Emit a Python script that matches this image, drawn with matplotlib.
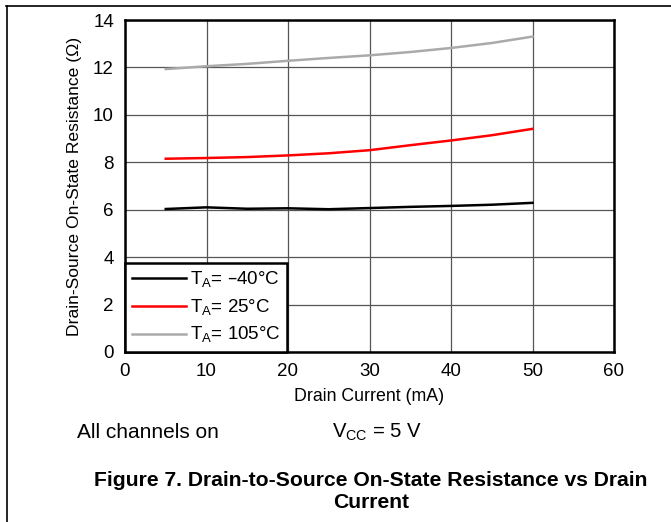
import matplotlib
matplotlib.use("Agg")
import matplotlib.pyplot as plt
from matplotlib.lines import Line2D

plt.rcParams['font.family'] = ['Liberation Sans', 'DejaVu Sans']

# drain current (mA)
current = [5, 10, 15, 20, 25, 30, 35, 40, 45, 50]
# on-state resistance (ohm)
r_m40 = [6.03, 6.10, 6.04, 6.06, 6.02, 6.07, 6.12, 6.16, 6.21, 6.29]
r_25 = [8.15, 8.18, 8.22, 8.29, 8.38, 8.51, 8.72, 8.92, 9.14, 9.41]
r_105 = [11.93, 12.05, 12.15, 12.28, 12.40, 12.51, 12.65, 12.82, 13.03, 13.30]

xticks = [0, 10, 20, 30, 40, 50, 60]
yticks = [0, 2, 4, 6, 8, 10, 12, 14]

fig = plt.figure(figsize=(6.71, 5.22), dpi=100)

# outer page frame (top and left lines)
fig.add_artist(Line2D([6 / 671, 1], [1 - 6 / 522, 1 - 6 / 522], color='black', lw=1.2))
fig.add_artist(Line2D([7 / 671, 7 / 671], [0, 1 - 6 / 522], color='black', lw=1.2))

ax = fig.add_axes([125 / 671, 1 - 352 / 522, (614 - 125) / 671, (352 - 20) / 522])

ax.plot(current, r_m40, color='black', lw=1.8, label='T$_\\mathregular{A}$= \u201340\u00b0C')
ax.plot(current, r_25, color='#ff0000', lw=1.8, label='T$_\\mathregular{A}$= 25\u00b0C')
ax.plot(current, r_105, color='#aaaaaa', lw=1.8, label='T$_\\mathregular{A}$= 105\u00b0C')

ax.set_xlim(0, 60)
ax.set_ylim(0, 14)
ax.set_xticks(xticks)
ax.set_yticks(yticks)
ax.tick_params(length=0, labelsize=13.5, pad=8)
ax.grid(True, color='#555555', lw=0.9)
ax.set_axisbelow(True)
for s in ax.spines.values():
    s.set_linewidth(1.8)

ax.set_xlabel('Drain Current (mA)', fontsize=12.8, labelpad=6)
ax.set_ylabel('Drain-Source On-State Resistance (\u03a9)', fontsize=12.6, labelpad=8)

leg = ax.legend(loc='lower left', bbox_to_anchor=(0, 0), fontsize=13.5, frameon=True,
                fancybox=False, borderaxespad=0, handlelength=2.9, handletextpad=0.2,
                labelspacing=0.4, borderpad=0.35)
leg.get_frame().set_edgecolor('black')
leg.get_frame().set_linewidth(1.8)
leg.get_frame().set_alpha(1)

fig.text(77 / 671, 1 - 432 / 522, 'All channels on', fontsize=15, va='center', ha='left')
fig.text(332 / 671, 1 - 432 / 522, 'V$_\\mathregular{CC}$ = 5 V', fontsize=14.6, va='center', ha='left')

fig.text(371 / 671, 1 - 480 / 522, 'Figure 7. Drain-to-Source On-State Resistance vs Drain',
         fontsize=15.2, fontweight='bold', ha='center', va='center')
fig.text(371 / 671, 1 - 503 / 522, 'Current',
         fontsize=15.2, fontweight='bold', ha='center', va='center')

fig.savefig('out.png', dpi=100)
